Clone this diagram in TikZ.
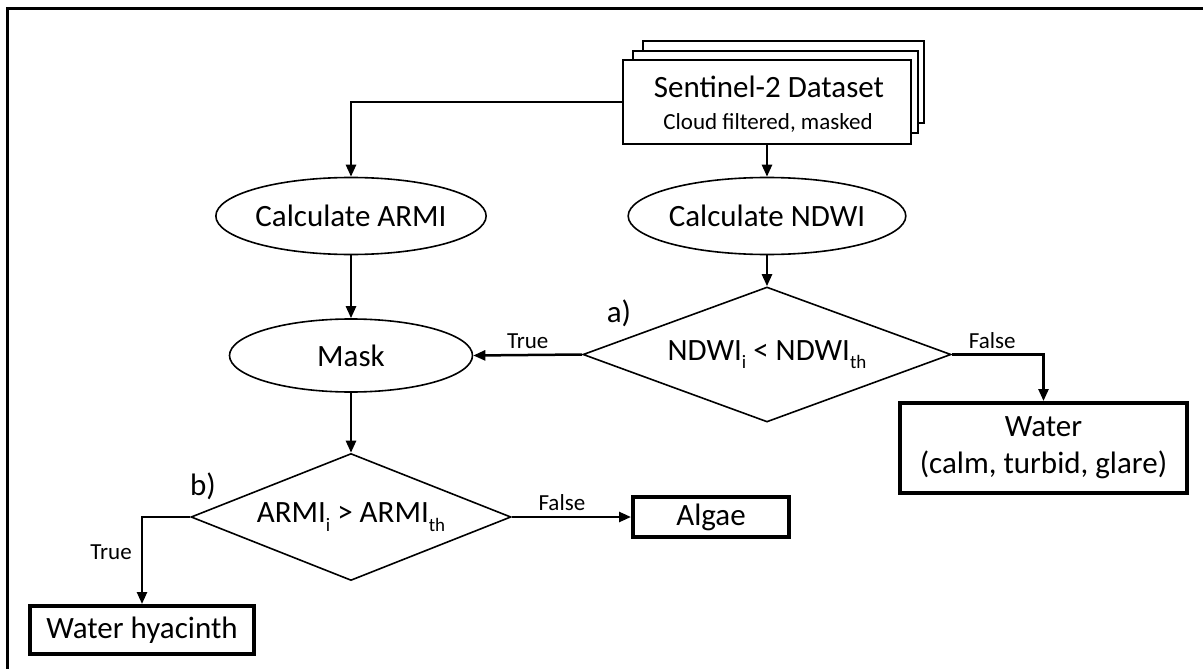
\documentclass[tikz,border=0pt]{standalone}
\usepackage{fontspec}
\setmainfont{Carlito}
\usetikzlibrary{shapes.geometric,arrows.meta}

% lowered small index, as in NDWI_i
\newcommand{\lowidx}[1]{\raisebox{-0.28em}{\fontsize{19}{19}\selectfont #1}}

\begin{document}
\begin{tikzpicture}[x=1pt,y=-1pt,
  every node/.style={font=\fontsize{31}{37}\selectfont, inner sep=0pt},
  flow/.style={line width=2.5pt, -{Triangle[length=12pt,width=10pt]}},
  oval/.style={ellipse, draw, line width=1.6pt, minimum width=244pt, minimum height=77pt},
  decision/.style={diamond, draw, line width=1.6pt},
  result/.style={rectangle, draw, line width=4pt, align=center},
  sheet/.style={rectangle, draw, fill=white, line width=2pt, minimum width=285pt, minimum height=82pt},
  tag/.style={font=\fontsize{23}{23}\selectfont}
]
\useasboundingbox (0,0) rectangle (1203,669);
\draw[line width=3pt] (1203,9) -- (7,9) -- (7,669);

% stacked dataset sheets
\node[sheet, minimum width=281pt] (s3) at (783,82) {};
\node[sheet] (s2) at (775,92) {};
\node[sheet, minimum width=288pt, minimum height=83pt] (src) at (767,102) {};
\node[anchor=base] (srct) at (769,97) {Sentinel-2 Dataset};
\node[anchor=base, tag] (srcs) at (768,129) {Cloud filtered, masked};

% processing steps
\node[oval] (armi) at (351,216) {Calculate ARMI};
\node[oval] (ndwi) at (767,216) {Calculate NDWI};
\node[oval, minimum width=243pt, minimum height=73pt] (mask) at (351,355.5) {Mask};

% decisions
\node[decision, shape aspect=2.726, minimum width=368pt, minimum height=135pt] (da) at (767,354.5)
  {NDWI\lowidx{i} < NDWI\lowidx{th}};
\node[decision, shape aspect=2.52, minimum width=320pt, minimum height=127pt] (db) at (351,517)
  {ARMI\lowidx{i} > ARMI\lowidx{th}};
\node (la) at (619,313) {a)};
\node (lb) at (203,486) {b)};

% outcomes
\node[result, minimum width=287pt, minimum height=90pt] (water) at (1043.5,448)
  {Water\\(calm, turbid, glare)};
\node[result, minimum width=156pt, minimum height=40pt] (algae) at (711,517) {Algae};
\node[result, minimum width=224pt, minimum height=48pt] (hyac) at (142,630) {Water hyacinth};

% connectors
\draw[flow] (src.west) -| (armi.north);
\draw[flow] (src.south) -- (ndwi.north);
\draw[flow] (armi) -- (mask);
\draw[flow] (ndwi) -- (da);
\draw[flow] (da.west) -- node[above=5pt, tag]{True} (mask.east);
\draw[flow] (da.east) -| node[pos=0.22, above=5pt, tag]{False} (water.north);
\draw[flow] (mask) -- (db);
\draw[flow] (db.east) -- node[pos=0.42, above=5pt, tag]{False} (algae.west);
\draw[flow] (db.west) -| node[pos=0.7, left=9pt, tag]{True} (hyac.north);
\end{tikzpicture}
\end{document}
